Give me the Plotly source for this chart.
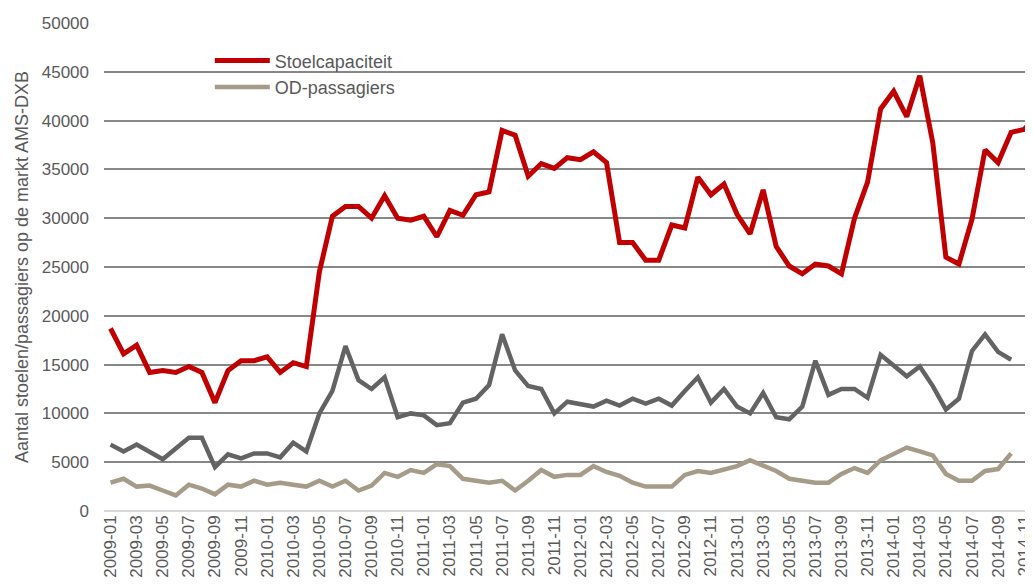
import plotly.graph_objects as go

months = [f"{y}-{m:02d}" for y in range(2009, 2015) for m in range(1, 13)]

stoelcapaciteit = [
    18700, 16100, 17000, 14200, 14400, 14200, 14800, 14200, 11100, 14400, 15400, 15400,
    15800, 14200, 15200, 14800, 24500, 30200, 31200, 31200, 30000, 32300, 30000, 29800,
    30200, 28100, 30800, 30300, 32400, 32700, 39000, 38500, 34300, 35600, 35100, 36200,
    36000, 36800, 35700, 27500, 27500, 25700, 25700, 29300, 29000, 34200, 32400, 33500,
    30400, 28400, 32900, 27100, 25100, 24300, 25300, 25100, 24300, 30000, 33700, 41200,
    43000, 40400, 44600, 37700, 26000, 25300, 29900, 37000, 35700, 38800, 39100, 40600,
]

passagiers_totaal = [
    6800, 6100, 6800, 6000, 5300, 6400, 7500, 7500, 4500, 5800, 5400, 5900,
    5900, 5500, 7000, 6100, 10000, 12300, 16900, 13400, 12500, 13700, 9600, 10000,
    9800, 8800, 9000, 11100, 11500, 12900, 18100, 14400, 12800, 12500, 10000, 11200,
    10900, 10700, 11300, 10800, 11500, 11000, 11500, 10800, 12300, 13700, 11100, 12500,
    10700, 10000, 12100, 9600, 9400, 10700, 15400, 11900, 12500, 12500, 11600, 16000,
    14900, 13800, 14800, 12800, 10400, 11500, 16400, 18100, 16300, 15500, None, None,
]

od_passagiers = [
    2900, 3300, 2500, 2600, 2100, 1600, 2700, 2300, 1700, 2700, 2500, 3100,
    2700, 2900, 2700, 2500, 3100, 2500, 3100, 2100, 2600, 3900, 3500, 4200,
    3900, 4800, 4600, 3300, 3100, 2900, 3100, 2100, 3100, 4200, 3500, 3700,
    3700, 4600, 4000, 3600, 2900, 2500, 2500, 2500, 3700, 4100, 3900, 4300,
    4600, 5200, 4700, 4100, 3300, 3100, 2900, 2900, 3800, 4400, 3900, 5200,
    5800, 6500, 6100, 5700, 3800, 3100, 3100, 4100, 4300, 5900, None, None,
]

tick_labels = months[::2]
y_ticks = list(range(0, 50001, 5000))

FONT = "Liberation Sans, Arial, sans-serif"
TXT = "#595959"

fig = go.Figure()
fig.add_trace(go.Scatter(x=months, y=passagiers_totaal, mode="lines", name="Passagiers",
                         showlegend=False, line=dict(color="#636363", width=4.5)))
fig.add_trace(go.Scatter(x=months, y=stoelcapaciteit, mode="lines", name="Stoelcapaciteit",
                         line=dict(color="#C00000", width=5)))
fig.add_trace(go.Scatter(x=months, y=od_passagiers, mode="lines", name="OD-passagiers",
                         line=dict(color="#A59B88", width=4.5)))

# the page body has an 8px margin, so the figure starts at (8, 8) on screen
OFF = 8
SCREEN_W, SCREEN_H = 1033, 588
W, H = SCREEN_W - OFF, SCREEN_H - OFF
# plot area in screen pixels
L, R, T, B = 104.2, 1033, 22.7, 510.7
pw, ph = R - L, B - T

def px(x):
    return (x - L) / pw

def py(y):
    return (B - y) / ph

fig.update_layout(
    width=W, height=H,
    margin=dict(l=L - OFF, r=SCREEN_W - R, t=T - OFF, b=SCREEN_H - B, autoexpand=False),
    paper_bgcolor="white", plot_bgcolor="white",
    font=dict(family=FONT, color=TXT, size=17),
    xaxis=dict(type="category", range=[-0.5, (R - 110.7) / 13.05],
               tickmode="array", tickvals=tick_labels, ticktext=tick_labels,
               tickangle=-90, tickfont=dict(size=17, color=TXT),
               showgrid=False, showline=False, ticks="", zeroline=False,
               automargin=False),
    yaxis=dict(range=[0, 50000], tickmode="array", tickvals=y_ticks,
               tickformat="d", tickfont=dict(size=17, color=TXT),
               showgrid=True, gridcolor="#878787", gridwidth=1.5,
               zeroline=True, zerolinecolor="#D9D9D9", zerolinewidth=2,
               showline=False, ticks="", ticklabelstandoff=14,
               title=dict(text="Aantal stoelen/passagiers op de markt AMS-DXB",
                          font=dict(size=18, color=TXT), standoff=8),
               automargin=False),
    legend=dict(x=px(210), y=py(42), xanchor="left", yanchor="top",
                bgcolor="rgba(255,255,255,0)", borderwidth=0,
                font=dict(size=18, color=TXT), itemwidth=55,
                tracegroupgap=0),
    shapes=[dict(type="rect", xref="paper", yref="paper",
                 x0=px(170), x1=px(472), y0=py(102), y1=py(40),
                 fillcolor="white", line=dict(width=0), layer="between")],
)

fig.write_html("out.html")
